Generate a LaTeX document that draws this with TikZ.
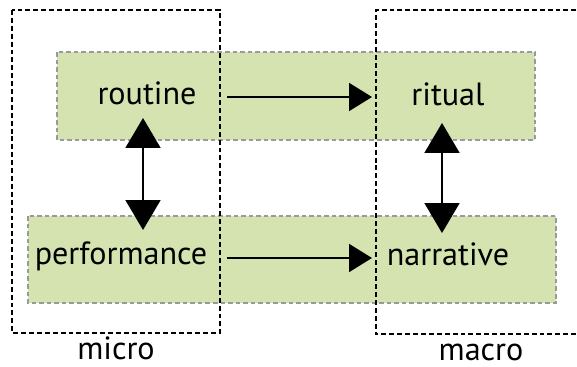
\documentclass[tikz,border=0pt]{standalone}
\usepackage{fontspec}
\setmainfont{PT Sans}
\usetikzlibrary{arrows.meta,calc}
\definecolor{bandgreen}{HTML}{D4E3AF}
\definecolor{bandedge}{HTML}{9A9A9A}
\begin{document}
\begin{tikzpicture}[x=0.02cm,y=-0.02cm,
  band/.style={fill=bandgreen,draw=bandedge,line width=0.9pt,dash pattern=on 2.6pt off 1.7pt},
  scalebox/.style={draw=black,line width=1.5pt,dash pattern=on 2.8pt off 1.7pt},
  label/.style={font=\fontsize{18.3}{21}\selectfont,inner sep=0pt,anchor=base},
  arr/.style={line width=1.1pt,-{Triangle[length=0.46cm,width=0.56cm]}},
  dbl/.style={line width=1.1pt,{Triangle[length=0.6cm,width=0.7cm]}-{Triangle[length=0.6cm,width=0.7cm]}}]
\useasboundingbox (0,0) rectangle (577,367);
% green bands for the two rows
\path[band] (57,52) rectangle (535,140);
\path[band] (28,216) rectangle (556,303);
% micro and macro frames
\path[scalebox] (12,10) rectangle (220,333);
\begin{scope}
  \clip (0,0) rectangle (577,367);
  \path[scalebox] (600,10) -- (376,10) -- (376,334) -- (600,334);
\end{scope}
% labels
\node[label] (routine) at (147,105) {routine};
\node[label] (ritual) at (448,106) {ritual};
\node[label] (performance) at (121,265) {performance};
\node[label] (narrative) at (448,266) {narrative};
\node[label] (micro) at (116,359) {micro};
\node[label] (macro) at (481,360) {macro};
% connectors
\draw[arr] ($(routine.base)+(80,-8)$) -- ($(ritual.base)+(-76,-9)$);
\draw[arr] ($(performance.base)+(106,-7)$) -- ($(narrative.base)+(-76,-8)$);
\draw[dbl] ($(routine.base)+(-4,13)$) -- ($(performance.base)+(22,-35)$);
\draw[dbl] ($(ritual.base)+(-6,17)$) -- ($(narrative.base)+(-6,-33)$);
\end{tikzpicture}
\end{document}
